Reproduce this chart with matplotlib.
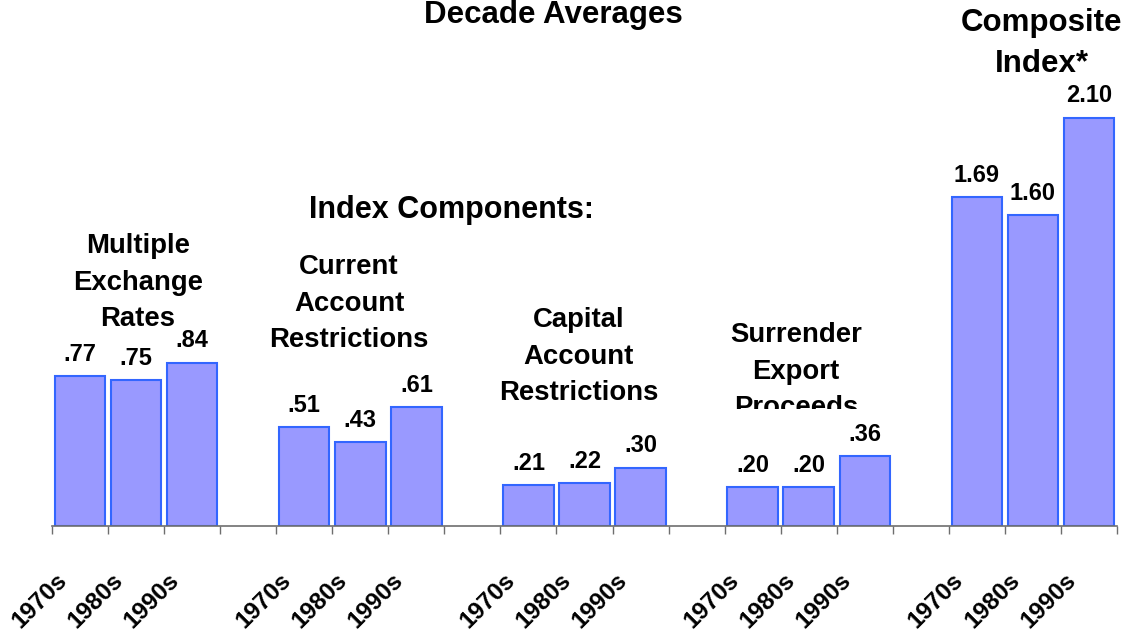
import numpy as np
import matplotlib
matplotlib.use('Agg')
import matplotlib.pyplot as plt
from matplotlib.transforms import Bbox, TransformedBbox

plt.rcParams['font.family'] = ['Liberation Sans', 'DejaVu Sans']
plt.rcParams['font.weight'] = 'bold'

# data
decades = ['1970s', '1980s', '1990s']
groups = ['Multiple\nExchange\nRates', 'Current\nAccount\nRestrictions',
          'Capital\nAccount\nRestrictions', 'Surrender\nExport\nProceeds',
          'Composite\nIndex*']
multiple_rates = [0.77, 0.75, 0.84]
current_account = [0.51, 0.43, 0.61]
capital_account = [0.21, 0.22, 0.30]
surrender_export = [0.20, 0.20, 0.36]
composite_index = [1.69, 1.60, 2.10]
value_labels = [['.77', '.75', '.84'], ['.51', '.43', '.61'], ['.21', '.22', '.30'],
                ['.20', '.20', '.36'], ['1.69', '1.60', '2.10']]

series = [multiple_rates, current_account, capital_account, surrender_export, composite_index]

W, H = 1132, 633
fig = plt.figure(figsize=(W / 100, H / 100), dpi=100)
ax = fig.add_axes([52 / W, (H - 526) / H, (1117 - 52) / W, 526 / H])

#each group takes 3 slots plus one empty slot
for g, vals in enumerate(series):
    pos = np.arange(3) + 4 * g + 0.5
    ax.bar(pos, vals, width=0.9, color='#9999FF', edgecolor='#3366FF', linewidth=1.5, zorder=2)
    for p, v, lab in zip(pos, vals, value_labels[g]):
        ax.annotate(lab, xy=(p, v), xytext=(0, 11), textcoords='offset points',
                    ha='center', va='baseline', fontsize=17, fontweight='bold')
    for p, d in zip(pos, decades):
        ax.annotate(d, xy=(p, 0), xytext=(-18, -31), textcoords='offset points',
                    ha='right', va='top', rotation=45, rotation_mode='anchor',
                    fontsize=17.5, fontweight='bold', annotation_clip=False)

ax.set_xlim(0, 19)
ax.set_ylim(0, 526 / 194.5)
ax.set_xticks(np.arange(20))
ax.set_xticklabels([])
ax.set_yticks([])
ax.tick_params(axis='x', length=6, width=1, color='#6e6e6e', direction='out')
for s in ['top', 'right', 'left']:
    ax.spines[s].set_visible(False)
ax.spines['bottom'].set_color('#6e6e6e')
ax.spines['bottom'].set_linewidth(1.2)
ax.spines['bottom'].set_zorder(3)

# headings (multi-line texts are placed by the baseline of their last line)
fig.text(553 / W, 1 - 23 / H, 'Decade Averages', ha='center', va='baseline',
         fontsize=22.5, fontweight='bold')
fig.text(451 / W, 1 - 218 / H, 'Index Components:', ha='center', va='baseline',
         fontsize=22, fontweight='bold')
fig.text(1042 / W, 1 - 72 / H, groups[4], ha='center', va='baseline',
         fontsize=22.5, fontweight='bold', linespacing=1.5, multialignment='center')

label_pos = [(138, 326), (349, 347), (579, 400), (796, 415)]
for g, (x, y) in enumerate(label_pos):
    t = fig.text(x / W, 1 - y / H, groups[g], ha='center', va='baseline',
                 fontsize=19.8, fontweight='bold', linespacing=1.52, multialignment='center')
    if g == 3:
        # last line gets cut off in the original
        t.set_clip_box(TransformedBbox(Bbox([[0, 1 - 409 / H], [1, 1]]), fig.transFigure))
        t.set_clip_on(True)

fig.savefig('out.png', dpi=100)
